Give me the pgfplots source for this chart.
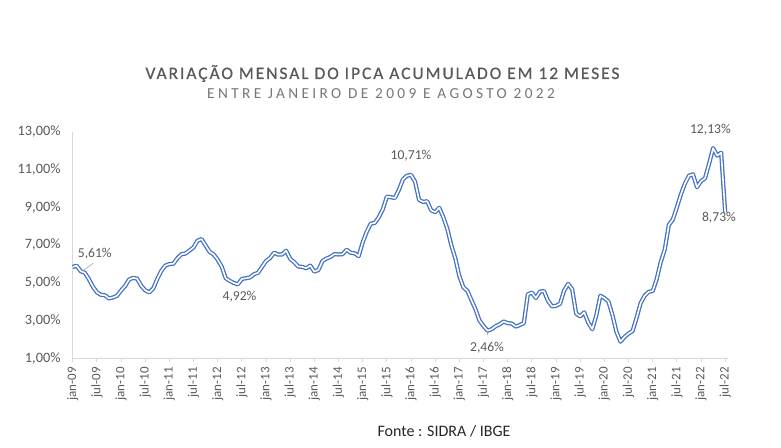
\documentclass[border=0pt]{standalone}
\usepackage{fontspec}
\setmainfont{Carlito}
\usepackage{pgfplots}
\pgfplotsset{compat=1.18}
\definecolor{linha}{HTML}{4472C4}
\definecolor{texto}{HTML}{595959}
\definecolor{texto2}{HTML}{767676}
\definecolor{eixo}{HTML}{D9D9D9}
\definecolor{guia}{HTML}{A6A6A6}

\newcommand{\ticksfont}{\fontsize{13}{15}\selectfont}
\newcommand{\yticksfont}{\fontsize{14.3}{16}\selectfont}
\newcommand{\lblfont}{\fontsize{13.6}{16}\selectfont}

\begin{document}
\begin{tikzpicture}
\path[use as bounding box] (0pt,0pt) rectangle (781pt,447pt);

\node[anchor=base, text=texto, font={\fontsize{17.5}{20}\selectfont\addfontfeatures{LetterSpace=11,FakeBold=0.6}}]
  at (382.5pt,368pt) {VARIAÇÃO MENSAL DO IPCA ACUMULADO EM 12 MESES};
\node[anchor=base, text=texto2, font={\fontsize{15.3}{18}\selectfont\addfontfeatures{LetterSpace=22}}]
  at (381pt,348pt) {ENTRE JANEIRO DE 2009 E AGOSTO 2022};
\node[anchor=base, text=black!85, font={\fontsize{16}{19}\selectfont}]
  at (444pt,10.3pt) {Fonte : SIDRA / IBGE};

\begin{axis}[
  at={(72.7pt,88.7pt)}, anchor=south west, scale only axis,
  width=655.3pt, height=226.6pt,
  xmin=0, xmax=162.7, ymin=1, ymax=13,
  axis lines=left,
  axis line style={draw=eixo, line width=0.8pt, -},
  xtick={0,6,...,162},
  xticklabels={jan-09,jul-09,jan-10,jul-10,jan-11,jul-11,jan-12,jul-12,jan-13,jul-13,jan-14,jul-14,jan-15,jul-15,jan-16,jul-16,jan-17,jul-17,jan-18,jul-18,jan-19,jul-19,jan-20,jul-20,jan-21,jul-21,jan-22,jul-22},
  ytick={1,3,5,7,9,11,13},
  yticklabels={{1,00\%},{3,00\%},{5,00\%},{7,00\%},{9,00\%},{11,00\%},{13,00\%}},
  tick align=outside, major tick length=4pt,
  xtick style={draw=eixo, line width=0.8pt},
  ytick style={draw=none},
  xticklabel style={rotate=90, anchor=east, inner sep=0pt, font=\ticksfont, text=texto},
  xticklabel shift=4.7pt,
  yticklabel style={anchor=east, inner sep=0pt, font=\yticksfont, text=texto},
  yticklabel shift=8pt,
  clip=false,
]
\addplot[draw=linha, double=white, line width=1.3pt, double distance=1.6pt, line join=round] coordinates {
(0,5.84) (1,5.90) (2,5.61) (3,5.53) (4,5.20) (5,4.80) (6,4.50) (7,4.36) (8,4.34) (9,4.17) (10,4.22) (11,4.31)
(12,4.59) (13,4.83) (14,5.17) (15,5.26) (16,5.22) (17,4.84) (18,4.60) (19,4.49) (20,4.70) (21,5.20) (22,5.63) (23,5.91)
(24,5.99) (25,6.01) (26,6.30) (27,6.51) (28,6.55) (29,6.71) (30,6.87) (31,7.23) (32,7.31) (33,6.97) (34,6.64) (35,6.50)
(36,6.22) (37,5.85) (38,5.24) (39,5.10) (40,4.99) (41,4.92) (42,5.20) (43,5.24) (44,5.28) (45,5.45) (46,5.53) (47,5.84)
(48,6.15) (49,6.31) (50,6.59) (51,6.49) (52,6.50) (53,6.70) (54,6.27) (55,6.09) (56,5.86) (57,5.84) (58,5.77) (59,5.91)
(60,5.59) (61,5.68) (62,6.15) (63,6.28) (64,6.37) (65,6.52) (66,6.50) (67,6.51) (68,6.75) (69,6.59) (70,6.56) (71,6.41)
(72,7.14) (73,7.70) (74,8.13) (75,8.17) (76,8.47) (77,8.89) (78,9.56) (79,9.53) (80,9.49) (81,9.93) (82,10.48) (83,10.67)
(84,10.71) (85,10.36) (86,9.39) (87,9.28) (88,9.32) (89,8.84) (90,8.74) (91,8.97) (92,8.48) (93,7.87) (94,6.99) (95,6.29)
(96,5.35) (97,4.76) (98,4.57) (99,4.08) (100,3.60) (101,3.00) (102,2.71) (103,2.46) (104,2.54) (105,2.70) (106,2.80) (107,2.95)
(108,2.86) (109,2.84) (110,2.68) (111,2.76) (112,2.86) (113,4.39) (114,4.48) (115,4.19) (116,4.53) (117,4.56) (118,4.05) (119,3.75)
(120,3.78) (121,3.89) (122,4.58) (123,4.94) (124,4.66) (125,3.37) (126,3.22) (127,3.43) (128,2.89) (129,2.54) (130,3.27) (131,4.31)
(132,4.19) (133,4.01) (134,3.30) (135,2.40) (136,1.88) (137,2.13) (138,2.31) (139,2.44) (140,3.14) (141,3.92) (142,4.31) (143,4.52)
(144,4.56) (145,5.20) (146,6.10) (147,6.76) (148,8.06) (149,8.35) (150,8.99) (151,9.68) (152,10.25) (153,10.67) (154,10.74) (155,10.06)
(156,10.38) (157,10.54) (158,11.30) (159,12.13) (160,11.73) (161,11.89) (162,8.73)
};

% rotulos de dados
\tikzset{lbl/.style={anchor=base, inner sep=0pt, text=texto, font=\lblfont}}
\draw[guia, line width=0.6pt] ([xshift=2pt, yshift=0.5pt]axis cs:2,5.61) -- ([xshift=12.5pt, yshift=8pt]axis cs:2,5.61);
\node[lbl] at ([xshift=14pt, yshift=14pt]axis cs:2,5.61) {5,61\%};
\node[lbl] at ([xshift=1.7pt, yshift=-16.7pt]axis cs:41,4.92) {4,92\%};
\node[lbl] at ([xshift=0pt, yshift=15pt]axis cs:84,10.71) {10,71\%};
\draw[guia, line width=0.6pt] ([yshift=-1pt]axis cs:103,2.46) -- ([yshift=-4.5pt]axis cs:103,2.46);
\node[lbl] at ([xshift=-0.5pt, yshift=-21pt]axis cs:103,2.46) {2,46\%};
\node[lbl] at ([xshift=-2.7pt, yshift=14.5pt]axis cs:159,12.13) {12,13\%};
\node[lbl] at ([xshift=-6.2pt, yshift=-9.6pt]axis cs:162,8.73) {8,73\%};
\end{axis}
\end{tikzpicture}
\end{document}
